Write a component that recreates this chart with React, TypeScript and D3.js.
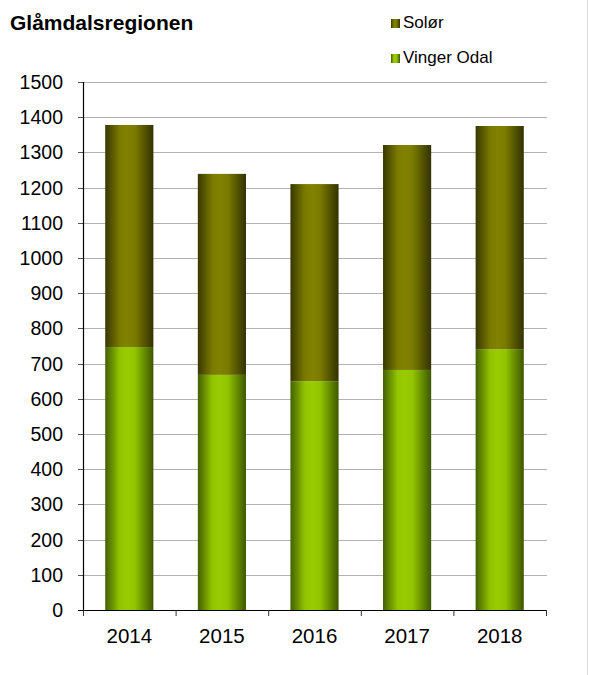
import React from "react";
import * as d3 from "d3";

const years = ["2014", "2015", "2016", "2017", "2018"];
const vingerOdal = [747, 668, 650, 682, 741];
const solor = [631, 571, 560, 639, 634];
const yTicks = [0, 100, 200, 300, 400, 500, 600, 700, 800, 900, 1000, 1100, 1200, 1300, 1400, 1500];

const W = 589;
const H = 675;
const left = 83;
const right = 546;
const top = 82;
const bottom = 610;

export default function App() {
  const x = d3.scaleBand<string>().domain(years).range([left, right]).paddingInner(0.48).paddingOuter(0.24);
  const y = d3.scaleLinear().domain([0, 1500]).range([bottom, top]);
  const step = (right - left) / years.length;
  const font = "Arial, 'Liberation Sans', sans-serif";

  const stacked = years.map((yr, i) => ({
    yr,
    v: vingerOdal[i],
    s: solor[i],
  }));

  return (
    <svg width={W} height={H} style={{ position: "absolute", left: 0, top: 0, background: "#fff" }} fontFamily={font}>
      <defs>
        <linearGradient id="gOlive" x1="0" x2="1" y1="0" y2="0">
          <stop offset="0" stopColor="#383800" />
          <stop offset="0.3" stopColor="#7a7a00" />
          <stop offset="0.45" stopColor="#828200" />
          <stop offset="0.62" stopColor="#7a7a00" />
          <stop offset="1" stopColor="#323200" />
        </linearGradient>
        <linearGradient id="gGreen" x1="0" x2="1" y1="0" y2="0">
          <stop offset="0" stopColor="#436000" />
          <stop offset="0.3" stopColor="#92c400" />
          <stop offset="0.45" stopColor="#99cc00" />
          <stop offset="0.62" stopColor="#92c400" />
          <stop offset="1" stopColor="#3d5700" />
        </linearGradient>
      </defs>
      <rect x={0} y={0} width={W} height={H} fill="#fff" />
      <line x1={587.5} x2={587.5} y1={0} y2={H} stroke="#dcdcdc" strokeWidth={1} />

      <text x={10} y={30} fontSize={21} fontWeight="bold" fill="#000">Glåmdalsregionen</text>

      <rect x={391} y={19} width={9} height={9} fill="url(#gOlive)" />
      <text x={403} y={28} fontSize={17} fill="#000">Solør</text>
      <rect x={391} y={54} width={9} height={9} fill="url(#gGreen)" />
      <text x={403} y={63} fontSize={17} fill="#000">Vinger Odal</text>

      {yTicks.map((t) => (
        <g key={t}>
          {t > 0 && (
            <line x1={left} x2={right + 1} y1={Math.round(y(t)) + 0.5} y2={Math.round(y(t)) + 0.5} stroke="#b3b3b3" strokeWidth={1.2} />
          )}
          <line x1={left - 5} x2={left} y1={Math.round(y(t)) + 0.5} y2={Math.round(y(t)) + 0.5} stroke="#555" strokeWidth={1} />
          <text x={63} y={y(t) + 7} fontSize={19.5} textAnchor="end" fill="#000">{t}</text>
        </g>
      ))}

      {stacked.map((d) => (
        <g key={d.yr}>
          <rect x={x(d.yr)} y={y(d.v)} width={x.bandwidth()} height={bottom - y(d.v)} fill="url(#gGreen)" />
          <rect x={x(d.yr)} y={y(d.v + d.s)} width={x.bandwidth()} height={y(d.v) - y(d.v + d.s)} fill="url(#gOlive)" />
          <text x={(x(d.yr) as number) + x.bandwidth() / 2} y={643} fontSize={20.5} textAnchor="middle" fill="#000">{d.yr}</text>
        </g>
      ))}

      <line x1={left + 0.5} x2={left + 0.5} y1={top} y2={bottom} stroke="#000" strokeWidth={1.2} />
      <line x1={left - 5} x2={right + 0.5} y1={bottom + 0.5} y2={bottom + 0.5} stroke="#000" strokeWidth={1.2} />
      {d3.range(years.length + 1).map((i) => (
        <line key={i} x1={left + 0.5 + step * i} x2={left + 0.5 + step * i} y1={bottom} y2={bottom + 6} stroke="#333" strokeWidth={1} />
      ))}
    </svg>
  );
}
